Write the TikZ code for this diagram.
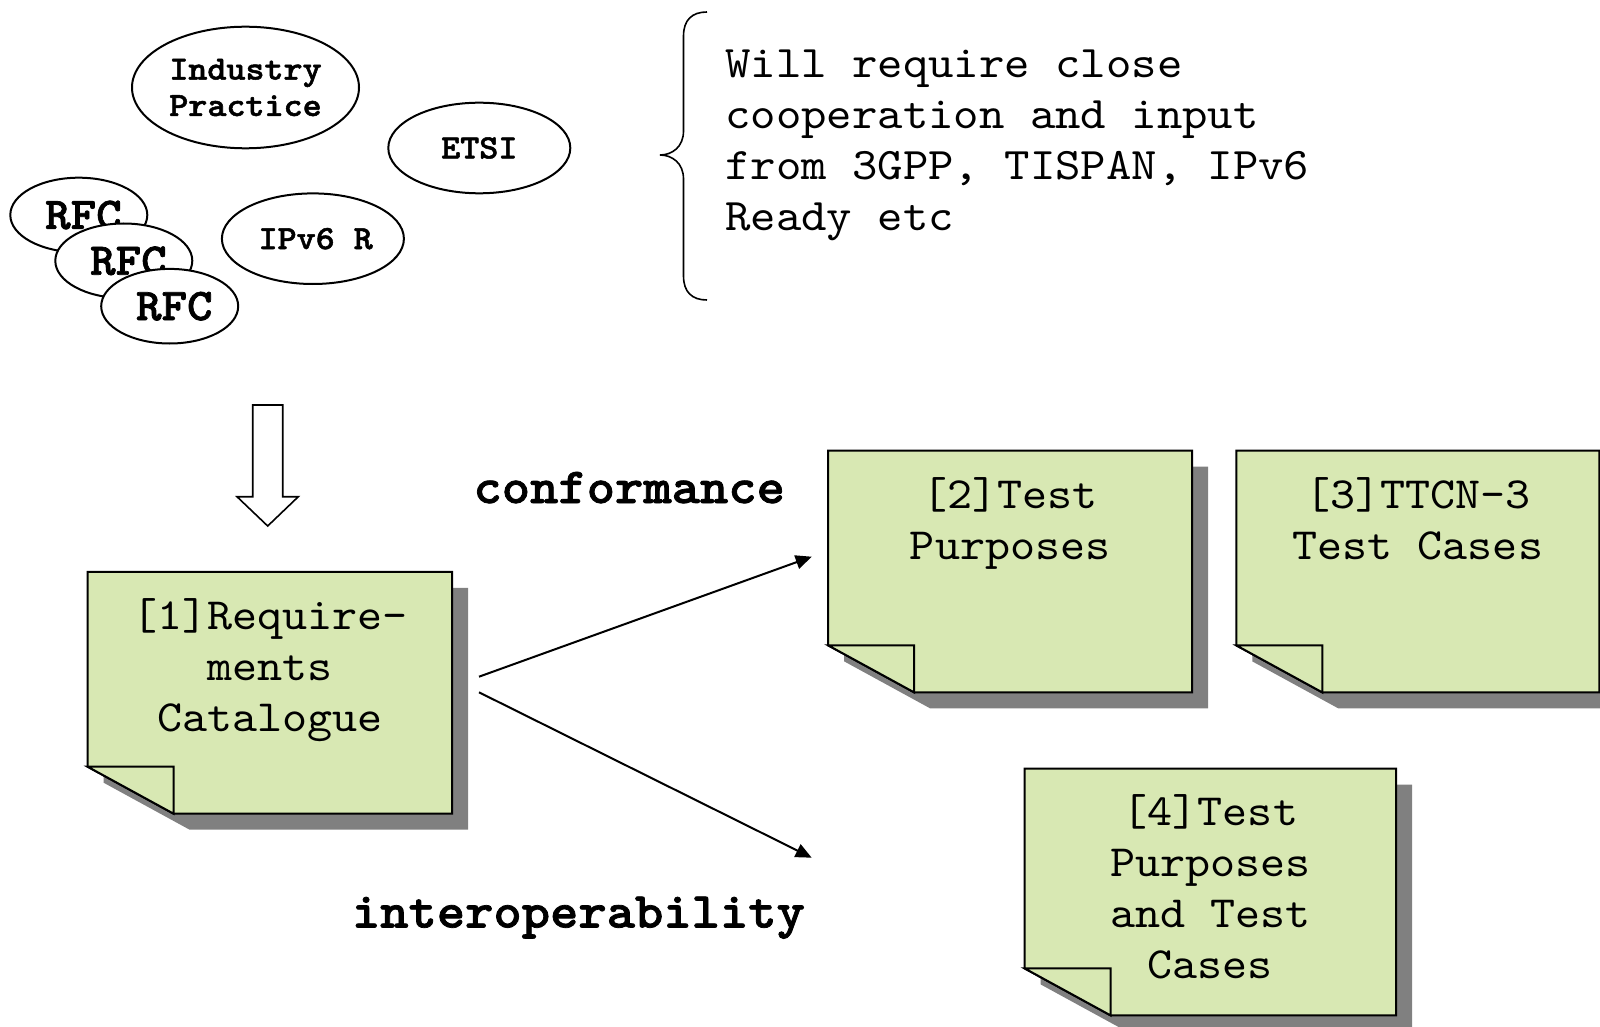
\documentclass[tikz,border=0pt]{standalone}
\usepackage{fontspec}
\newfontfamily\cour{lmmono10-regular}[Extension=.otf, BoldFont=lmmonolt10-bold, FakeStretch=1.07, BoldFeatures={FakeBold=1.5}]
\usetikzlibrary{shapes.geometric,arrows.meta}
\definecolor{notegreen}{RGB}{216,232,179}
\definecolor{shadowgray}{RGB}{128,128,128}
\newcommand{\stickynote}[5]{% name, left, top, right, bottom (px)
  \node[notebox, minimum width={(#4-#2)*0.5pt}, minimum height={(#5-#3)*0.5pt}] (#1) at ({(#2+#4)/2},{(#3+#5)/2}) {};
  \fill[shadowgray] ([shift={(8pt,-8pt)}]#1.north west) -- ([shift={(8pt,-8pt)}]#1.north east) -- ([shift={(8pt,-8pt)}]#1.south east) -- ([shift={(51pt,-8pt)}]#1.south west) -- ([shift={(8pt,15.5pt)}]#1.south west) -- cycle;
  \filldraw[noteline] (#1.north west) -- (#1.north east) -- (#1.south east) -- ([xshift=43pt]#1.south west) -- ([yshift=23.5pt]#1.south west) -- cycle;
  \filldraw[noteline] ([yshift=23.5pt]#1.south west) -- ([shift={(43pt,23.5pt)}]#1.south west) -- ([xshift=43pt]#1.south west) -- cycle;
}
\begin{document}
\begin{tikzpicture}[x=0.5pt,y=-0.5pt,
  bubble/.style={draw, ellipse, fill=white, line width=1pt, inner sep=0pt, align=center,
    font=\cour\bfseries\fontsize{16.95}{18.2}\selectfont},
  rfcbubble/.style={bubble, minimum width=68.5pt, minimum height=37.3pt,
    font=\cour\bfseries\fontsize{22.7}{25}\selectfont},
  notebox/.style={rectangle, inner sep=0pt, draw=none},
  noteline/.style={fill=notegreen, draw=black, line width=1pt, line join=miter},
  notetext/.style={anchor=base, inner sep=0pt, font=\cour\fontsize{22.3}{25.5}\selectfont},
  flow/.style={line width=1pt, -{Triangle[length=8pt,width=7pt]}},
  biglabel/.style={anchor=base, inner sep=0pt, font=\cour\bfseries\fontsize{25.2}{28}\selectfont}
]
\useasboundingbox (0,0) rectangle (1600,1027);

% source bubbles
\node[bubble, minimum width=113.5pt, minimum height=60.8pt] (industry) at (245.5,87.5) {Industry\\Practice};
\node[bubble, minimum width=91pt, minimum height=45.3pt] (etsi) at (479.3,148) {ETSI};
\node[bubble, minimum width=91pt, minimum height=45.3pt] (ipv6) at (312.9,238.7) {\hspace*{2.8pt}IPv6 R};
\node[rfcbubble] (rfc1) at (78.8,215) {\hspace*{4.6pt}RFC};
\node[rfcbubble] (rfc2) at (123.8,260.8) {\hspace*{4.6pt}RFC};
\node[rfcbubble] (rfc3) at (169.7,306.2) {\hspace*{4.6pt}RFC};

% brace and comment
\draw[line width=0.8pt] (707,12) .. controls (692,12) and (683.5,20) .. (683.5,36) -- (683.5,131)
  .. controls (683.5,147) and (672,155) .. (660,155)
  .. controls (672,155) and (683.5,163) .. (683.5,179) -- (683.5,276)
  .. controls (683.5,292) and (692,300) .. (707,300);
\node[anchor=base west, inner sep=0pt, font=\cour\fontsize{22.6}{25.5}\selectfont] (comment) at (725,78)
  {\begin{tabular}[t]{@{}l@{}}Will require close\\cooperation and input\\from 3GPP, TISPAN, IPv6\\Ready etc\end{tabular}};

% block arrow
\draw[line width=0.8pt, fill=white] (252.7,405) -- (282.7,405) -- (282.7,496.7) -- (298.3,496.7)
  -- (267.7,526) -- (237,496.7) -- (252.7,496.7) -- cycle;

% notes
\stickynote{b1}{88}{572.3}{451.7}{813.3}
\stickynote{b2}{828.6}{451}{1191.8}{692}
\stickynote{b3}{1236.7}{451}{1599}{692}
\stickynote{b4}{1025}{769}{1395.7}{1015}

\node[notetext] (t1) at ([yshift=-29pt]b1.north) {\begin{tabular}[t]{@{}c@{}}{[1]}Require-\\ments\\Catalogue\end{tabular}};
\node[notetext] (t2) at ([yshift=-29pt]b2.north) {\begin{tabular}[t]{@{}c@{}}{[2]}Test\\Purposes\end{tabular}};
\node[notetext] (t3) at ([yshift=-29pt]b3.north) {\begin{tabular}[t]{@{}c@{}}{[3]}TTCN-3\\Test Cases\end{tabular}};
\node[notetext] (t4) at ([yshift=-28.5pt]b4.north) {\begin{tabular}[t]{@{}c@{}}{[4]}Test\\Purposes\\and Test\\Cases\end{tabular}};

% flows
\coordinate (c1s) at (479,676.7);
\coordinate (c1e) at (811.7,556.7);
\coordinate (c2s) at (479,692.3);
\coordinate (c2e) at (811.7,857.7);
\draw[flow] (c1s) -- (c1e);
\draw[flow] (c2s) -- (c2e);

\node[biglabel] (conf) at (629.2,503) {conformance};
\node[biglabel] (interop) at (578.4,927.5) {interoperability};
\end{tikzpicture}
\end{document}
